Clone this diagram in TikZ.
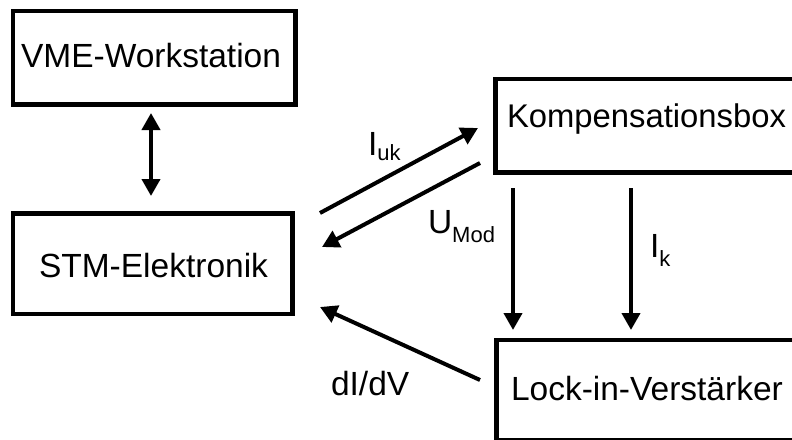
\documentclass[tikz,border=0pt]{standalone}
\usepackage{fontspec}
\setmainfont{Liberation Sans}
\usetikzlibrary{arrows.meta}
\newcommand{\subtxt}[2][9pt]{\raisebox{-#1}{\fontsize{22}{25}\selectfont #2}}
\begin{document}
\begin{tikzpicture}[x=1pt,y=-1pt,
  box/.style={draw, line width=4.2pt, inner sep=0pt, outer sep=0pt},
  lbl/.style={inner sep=0pt, outer sep=0pt, font=\fontsize{33.5}{40}\selectfont},
  conn/.style={line width=4pt, -{Triangle[length=17pt,width=18pt]}},
  bothconn/.style={line width=4pt, {Triangle[length=17pt,width=18pt]}-{Triangle[length=17pt,width=18pt]}}]
\useasboundingbox (0,0) rectangle (792,439);
\clip (0,0) rectangle (792,439);

% blocks
\node[box, minimum width=282.5pt, minimum height=93.5pt] (vme) at (154.25,57.75) {};
\node[box, minimum width=279.5pt, minimum height=100.5pt] (stm) at (152.75,263.75) {};
\node[box, minimum width=344.5pt, minimum height=93.5pt] (komp) at (667.75,125.75) {};
\node[box, minimum width=343.5pt, minimum height=100pt] (lock) at (668.25,390) {};

% block titles
\node[lbl, anchor=base west] (tvme) at (21,67) {VME-Workstation};
\node[lbl, anchor=base west] (tstm) at (39,277) {STM-Elektronik};
\node[lbl, anchor=base west, font=\fontsize{32.8}{40}\selectfont] (tkomp) at (507,127) {Kompensationsbox};
\node[lbl, anchor=base west] (tlock) at (511,400) {Lock-in-Verstärker};

% signal names
\node[lbl, anchor=base west] (liuk) at (368,155) {I\subtxt[5pt]{uk}};
\node[lbl, anchor=base west] (lumod) at (428,233) {U\subtxt{Mod}};
\node[lbl, anchor=base west] (lik) at (650,257) {I\subtxt{k}};
\node[lbl, anchor=base west] (ldidv) at (331,395) {dI/dV};

% arrow end points
\coordinate (vmeS) at (151,113);
\coordinate (stmN) at (151,196);
\coordinate (stmOut) at (320,213);
\coordinate (kompIn) at (478,128);
\coordinate (kompOut) at (480,163);
\coordinate (stmIn) at (322,247);
\coordinate (lockOut) at (480,380);
\coordinate (stmIn2) at (320,307);
\coordinate (kompA) at (513,188);
\coordinate (lockA) at (513,330);
\coordinate (kompB) at (631,188);
\coordinate (lockB) at (631,330);

% connections
\draw[bothconn] (vmeS) -- (stmN);
\draw[conn] (stmOut) -- (kompIn);
\draw[conn] (kompOut) -- (stmIn);
\draw[conn] (lockOut) -- (stmIn2);
\draw[conn] (kompA) -- (lockA);
\draw[conn] (kompB) -- (lockB);
\end{tikzpicture}
\end{document}
